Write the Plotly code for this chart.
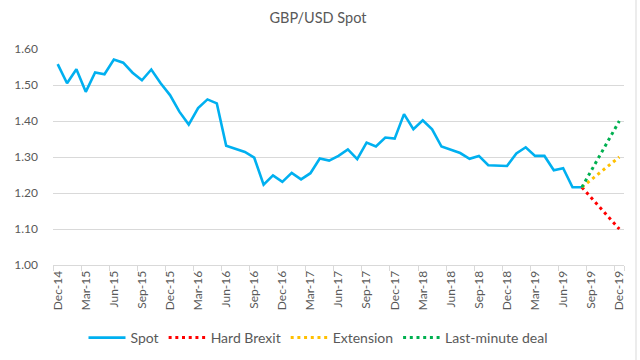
import plotly.graph_objects as go

# Month categories (Excel-style category axis)
months = [
    "Dec-14",
    "Jan-15", "Feb-15", "Mar-15", "Apr-15", "May-15", "Jun-15", "Jul-15", "Aug-15", "Sep-15", "Oct-15", "Nov-15", "Dec-15",
    "Jan-16", "Feb-16", "Mar-16", "Apr-16", "May-16", "Jun-16", "Jul-16", "Aug-16", "Sep-16", "Oct-16", "Nov-16", "Dec-16",
    "Jan-17", "Feb-17", "Mar-17", "Apr-17", "May-17", "Jun-17", "Jul-17", "Aug-17", "Sep-17", "Oct-17", "Nov-17", "Dec-17",
    "Jan-18", "Feb-18", "Mar-18", "Apr-18", "May-18", "Jun-18", "Jul-18", "Aug-18", "Sep-18", "Oct-18", "Nov-18", "Dec-18",
    "Jan-19", "Feb-19", "Mar-19", "Apr-19", "May-19", "Jun-19", "Jul-19", "Aug-19", "Sep-19", "Oct-19", "Nov-19", "Dec-19",
]

spot_x = months[:57]  # Dec-14 .. Aug-19
spot = [
    1.558, 1.505, 1.544, 1.481, 1.535, 1.530, 1.571, 1.562, 1.534, 1.513, 1.543, 1.505, 1.472,
    1.426, 1.390, 1.436, 1.460, 1.449, 1.331, 1.323, 1.314, 1.298, 1.223, 1.249, 1.231,
    1.256, 1.238, 1.255, 1.296, 1.290, 1.303, 1.321, 1.294, 1.340, 1.329, 1.354, 1.351,
    1.419, 1.377, 1.402, 1.377, 1.329, 1.319, 1.311, 1.295, 1.303, 1.277, 1.275, 1.275,
    1.310, 1.327, 1.303, 1.303, 1.263, 1.269, 1.216, 1.216,
]

scenario_x = ["Aug-19", "Dec-19"]
hard_brexit = [1.216, 1.10]
extension = [1.216, 1.30]
last_minute_deal = [1.216, 1.40]

tick_labels = ["Dec-14", "Mar-15", "Jun-15", "Sep-15", "Dec-15", "Mar-16", "Jun-16", "Sep-16",
               "Dec-16", "Mar-17", "Jun-17", "Sep-17", "Dec-17", "Mar-18", "Jun-18", "Sep-18",
               "Dec-18", "Mar-19", "Jun-19", "Sep-19", "Dec-19"]

FONT = "Lato"
TXT = "#595959"
GRID = "#d9d9d9"

fig = go.Figure()
fig.add_trace(go.Scatter(x=spot_x, y=spot, mode="lines", name="Spot",
                         line=dict(color="#00B0F0", width=2.6)))
fig.add_trace(go.Scatter(x=scenario_x, y=hard_brexit, mode="lines", name="Hard Brexit",
                         line=dict(color="#FF0000", width=3, dash="3px,3.7px")))
fig.add_trace(go.Scatter(x=scenario_x, y=extension, mode="lines", name="Extension",
                         line=dict(color="#FFC000", width=3, dash="3px,3.7px")))
fig.add_trace(go.Scatter(x=scenario_x, y=last_minute_deal, mode="lines", name="Last-minute deal",
                         line=dict(color="#00B050", width=3, dash="3px,3.7px")))

fig.update_layout(
    width=640, height=360,
    margin=dict(l=53, r=16, t=49, b=95, autoexpand=False),
    paper_bgcolor="white", plot_bgcolor="white",
    font=dict(family=FONT, size=12, color=TXT),
    title=dict(text="GBP/USD Spot", x=318 / 640, xref="container", xanchor="center",
               y=1 - 18 / 360, yref="container", yanchor="middle",
               font=dict(family=FONT, size=14.5, color=TXT)),
    showlegend=True,
    legend=dict(orientation="h", x=(318 - 53) / 571, xanchor="center",
                y=(265 - 338) / 216, yanchor="middle",
                font=dict(family=FONT, size=14, color=TXT), bgcolor="rgba(0,0,0,0)",
                itemwidth=37, tracegroupgap=0),
    shapes=[dict(type="line", xref="paper", yref="paper",
                 x0=(636 - 53) / 571, x1=(636 - 53) / 571,
                 y0=(265 - 360) / 216, y1=265 / 216,
                 line=dict(color=GRID, width=1))],
)

fig.update_xaxes(
    type="category", categoryorder="array", categoryarray=months,
    range=[-0.5, len(months) - 0.5], automargin=False,
    tickmode="array", tickvals=tick_labels, ticktext=tick_labels,
    tickangle=-90, tickfont=dict(family=FONT, size=12, color=TXT),
    showgrid=False, showline=True, linecolor=GRID, linewidth=1,
    ticks="outside", ticklen=5, tickcolor=GRID, tickson="boundaries",
    zeroline=False,
)
fig.update_yaxes(
    range=[1.0, 1.6], dtick=0.1, tick0=1.0, tickformat=".2f", automargin=False,
    showgrid=True, gridcolor=GRID, gridwidth=1, showline=False, zeroline=False,
    tickfont=dict(family=FONT, size=12, color=TXT), ticks="", ticklabelstandoff=14,
)

fig.write_html(
    "out.html",
    config={"displayModeBar": False},
    post_script="document.body.style.margin='0';document.body.style.overflow='hidden';",
)
